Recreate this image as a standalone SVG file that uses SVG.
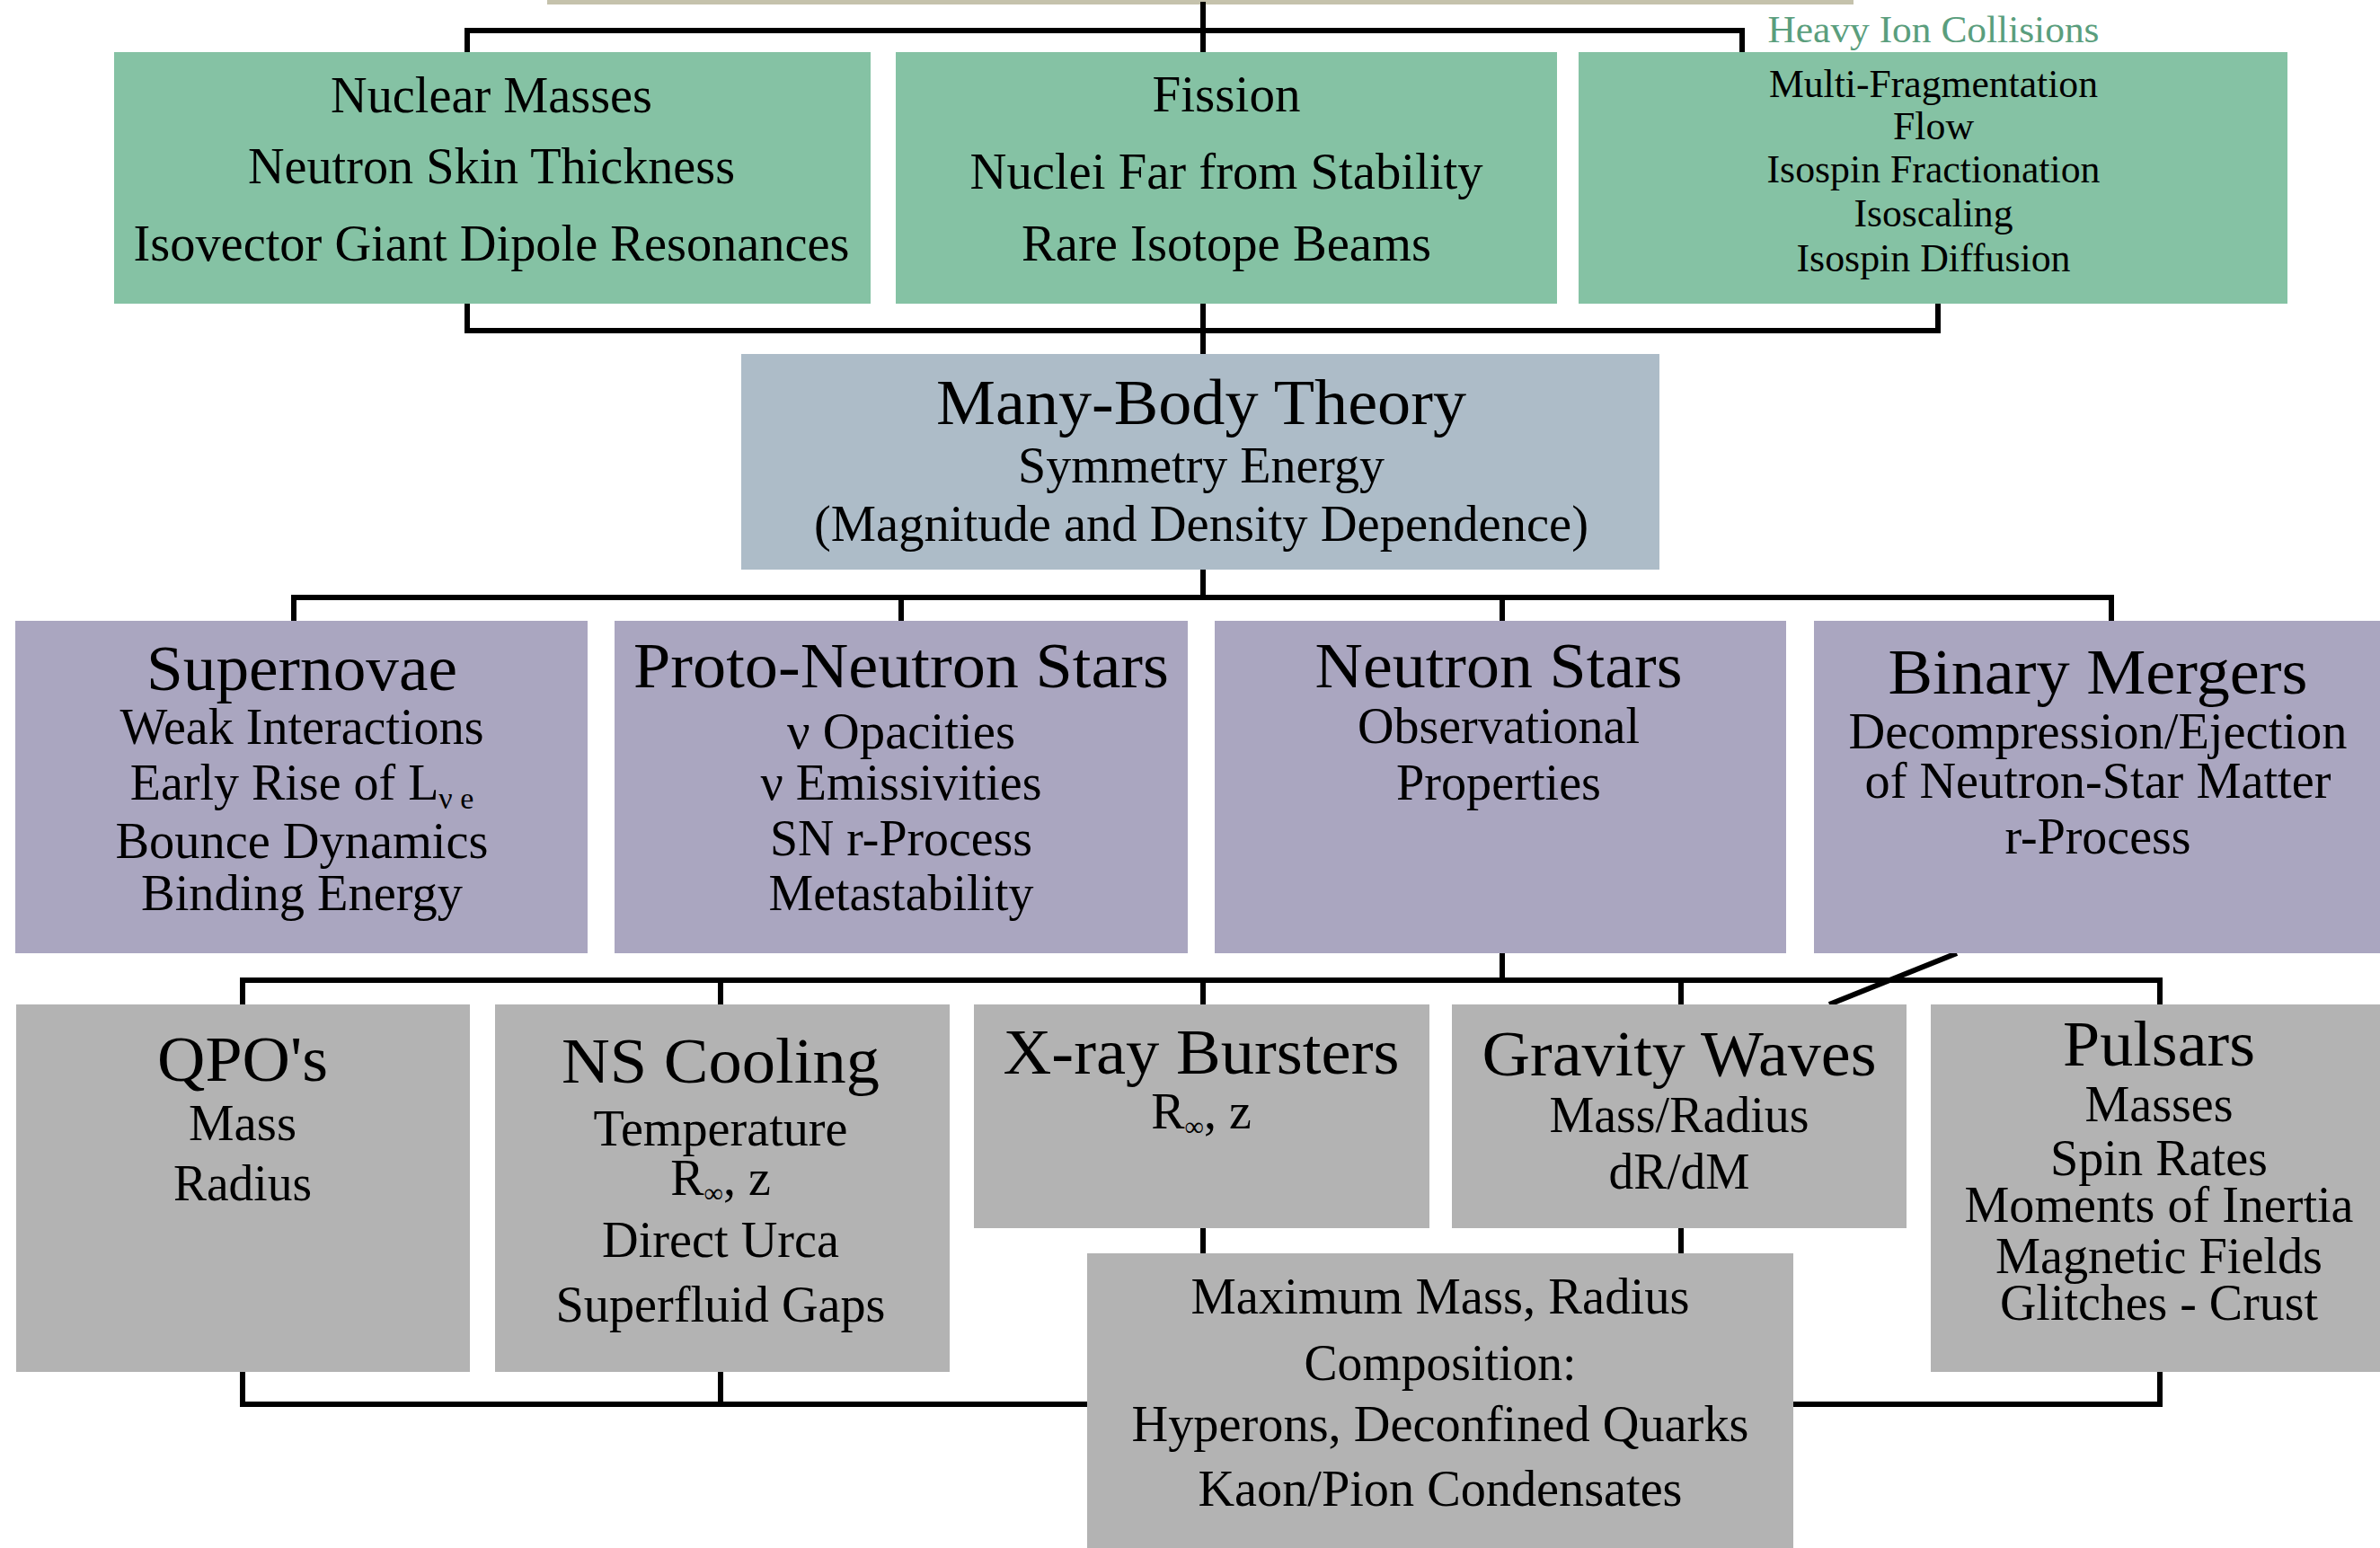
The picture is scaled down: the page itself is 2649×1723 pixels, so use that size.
<svg xmlns="http://www.w3.org/2000/svg" width="2649" height="1723" viewBox="0 0 2649 1723">
<style>
.t{font-family:"Liberation Serif","Times New Roman",serif;fill:#000;text-anchor:middle;font-size:56px}
.h{font-size:72px}
.hi{font-size:44px}
.lbl{font-size:42px;fill:#5a9e7d}
.green{fill:#85c2a4}
.blue{fill:#adbcc8}
.purple{fill:#aaa6c0}
.gray{fill:#b3b3b3}
.ln{fill:none;stroke:#000;stroke-width:6;stroke-linejoin:miter;stroke-linecap:square}
</style>
<rect width="2649" height="1723" fill="#fff"/>
<rect x="609" y="0" width="1454" height="5" fill="#c5c2ac"/>
<g id="connectors" class="ln">
<path d="M520,58 V34 H1939 V58"/>
<path d="M1339,5 V58"/>
<path d="M520,338 V368 H2157 V338"/>
<path d="M1339,338 V394"/>
<path d="M1339,634 V665"/>
<path d="M327,691 V665 H2350 V691"/>
<path d="M1003,665 V691"/>
<path d="M1672,665 V691"/>
<path d="M1672,1061 V1091"/>
<path d="M270,1118 V1091 H2404 V1118"/>
<path d="M802,1091 V1118"/>
<path d="M1339,1091 V1118"/>
<path d="M1871,1091 V1118"/>
<path d="M2178,1061 L2036,1118" style="stroke-linecap:butt"/>
<path d="M1339,1367 V1395"/>
<path d="M1871,1367 V1395"/>
<path d="M270,1527 V1563 H2404 V1527"/>
<path d="M802,1527 V1563"/>
</g>
<text class="t lbl" x="2152" y="47" textLength="369" lengthAdjust="spacingAndGlyphs">Heavy Ion Collisions</text>
<g id="nuclear">
<rect class="green" x="127" y="58" width="842" height="280"/>
<text class="t" x="547" y="125" textLength="358" lengthAdjust="spacingAndGlyphs">Nuclear Masses</text>
<text class="t" x="547" y="204" textLength="542" lengthAdjust="spacingAndGlyphs">Neutron Skin Thickness</text>
<text class="t" x="547" y="290" textLength="797" lengthAdjust="spacingAndGlyphs">Isovector Giant Dipole Resonances</text>
</g>
<g id="fission">
<rect class="green" x="997" y="58" width="736" height="280"/>
<text class="t" x="1365" y="124" textLength="165" lengthAdjust="spacingAndGlyphs">Fission</text>
<text class="t" x="1365" y="210" textLength="571" lengthAdjust="spacingAndGlyphs">Nuclei Far from Stability</text>
<text class="t" x="1365" y="290" textLength="456" lengthAdjust="spacingAndGlyphs">Rare Isotope Beams</text>
</g>
<g id="heavy-ion">
<rect class="green" x="1757" y="58" width="789" height="280"/>
<text class="t hi" x="2152" y="108" textLength="366" lengthAdjust="spacingAndGlyphs">Multi-Fragmentation</text>
<text class="t hi" x="2152" y="155" textLength="90" lengthAdjust="spacingAndGlyphs">Flow</text>
<text class="t hi" x="2152" y="203" textLength="371" lengthAdjust="spacingAndGlyphs">Isospin Fractionation</text>
<text class="t hi" x="2152" y="252" textLength="177" lengthAdjust="spacingAndGlyphs">Isoscaling</text>
<text class="t hi" x="2152" y="302" textLength="305" lengthAdjust="spacingAndGlyphs">Isospin Diffusion</text>
</g>
<g id="many-body">
<rect class="blue" x="825" y="394" width="1022" height="240"/>
<text class="t h" x="1337" y="472" textLength="590" lengthAdjust="spacingAndGlyphs">Many-Body Theory</text>
<text class="t" x="1337" y="537" textLength="408" lengthAdjust="spacingAndGlyphs">Symmetry Energy</text>
<text class="t" x="1337" y="602" textLength="862" lengthAdjust="spacingAndGlyphs">(Magnitude and Density Dependence)</text>
</g>
<g id="supernovae">
<rect class="purple" x="17" y="691" width="637" height="370"/>
<text class="t h" x="336" y="768" textLength="346" lengthAdjust="spacingAndGlyphs">Supernovae</text>
<text class="t" x="336" y="828" textLength="405" lengthAdjust="spacingAndGlyphs">Weak Interactions</text>
<text class="t" x="336" y="890">Early Rise of L<tspan font-size="34" dy="10">ν e</tspan></text>
<text class="t" x="336" y="955" textLength="415" lengthAdjust="spacingAndGlyphs">Bounce Dynamics</text>
<text class="t" x="336" y="1013" textLength="358" lengthAdjust="spacingAndGlyphs">Binding Energy</text>
</g>
<g id="proto-neutron-stars">
<rect class="purple" x="684" y="691" width="638" height="370"/>
<text class="t h" x="1003" y="765" textLength="596" lengthAdjust="spacingAndGlyphs">Proto-Neutron Stars</text>
<text class="t" x="1003" y="833" textLength="254" lengthAdjust="spacingAndGlyphs">ν Opacities</text>
<text class="t" x="1003" y="890" textLength="313" lengthAdjust="spacingAndGlyphs">ν Emissivities</text>
<text class="t" x="1003" y="952" textLength="292" lengthAdjust="spacingAndGlyphs">SN r-Process</text>
<text class="t" x="1003" y="1013" textLength="295" lengthAdjust="spacingAndGlyphs">Metastability</text>
</g>
<g id="neutron-stars">
<rect class="purple" x="1352" y="691" width="636" height="370"/>
<text class="t h" x="1668" y="765" textLength="409" lengthAdjust="spacingAndGlyphs">Neutron Stars</text>
<text class="t" x="1668" y="827" textLength="314" lengthAdjust="spacingAndGlyphs">Observational</text>
<text class="t" x="1668" y="890" textLength="228" lengthAdjust="spacingAndGlyphs">Properties</text>
</g>
<g id="binary-mergers">
<rect class="purple" x="2019" y="691" width="630" height="370"/>
<text class="t h" x="2335" y="772" textLength="467" lengthAdjust="spacingAndGlyphs">Binary Mergers</text>
<text class="t" x="2335" y="833" textLength="555" lengthAdjust="spacingAndGlyphs">Decompression/Ejection</text>
<text class="t" x="2335" y="888" textLength="519" lengthAdjust="spacingAndGlyphs">of Neutron-Star Matter</text>
<text class="t" x="2335" y="950" textLength="207" lengthAdjust="spacingAndGlyphs">r-Process</text>
</g>
<g id="qpos">
<rect class="gray" x="18" y="1118" width="505" height="409"/>
<text class="t h" x="270" y="1203" textLength="190" lengthAdjust="spacingAndGlyphs">QPO's</text>
<text class="t" x="270" y="1269" textLength="120" lengthAdjust="spacingAndGlyphs">Mass</text>
<text class="t" x="270" y="1336" textLength="154" lengthAdjust="spacingAndGlyphs">Radius</text>
</g>
<g id="ns-cooling">
<rect class="gray" x="551" y="1118" width="506" height="409"/>
<text class="t h" x="802" y="1205" textLength="354" lengthAdjust="spacingAndGlyphs">NS Cooling</text>
<text class="t" x="802" y="1275" textLength="283" lengthAdjust="spacingAndGlyphs">Temperature</text>
<text class="t" x="802" y="1330">R<tspan font-size="30" dy="8">∞</tspan><tspan dy="-8">, z</tspan></text>
<text class="t" x="802" y="1399" textLength="264" lengthAdjust="spacingAndGlyphs">Direct Urca</text>
<text class="t" x="802" y="1471" textLength="367" lengthAdjust="spacingAndGlyphs">Superfluid Gaps</text>
</g>
<g id="xray-bursters">
<rect class="gray" x="1084" y="1118" width="507" height="249"/>
<text class="t h" x="1337" y="1195" textLength="441" lengthAdjust="spacingAndGlyphs">X-ray Bursters</text>
<text class="t" x="1337" y="1256">R<tspan font-size="30" dy="8">∞</tspan><tspan dy="-8">, z</tspan></text>
</g>
<g id="gravity-waves">
<rect class="gray" x="1616" y="1118" width="506" height="249"/>
<text class="t h" x="1869" y="1197" textLength="439" lengthAdjust="spacingAndGlyphs">Gravity Waves</text>
<text class="t" x="1869" y="1260" textLength="289" lengthAdjust="spacingAndGlyphs">Mass/Radius</text>
<text class="t" x="1869" y="1323" textLength="157" lengthAdjust="spacingAndGlyphs">dR/dM</text>
</g>
<g id="pulsars">
<rect class="gray" x="2149" y="1118" width="500" height="409"/>
<text class="t h" x="2403" y="1186" textLength="214" lengthAdjust="spacingAndGlyphs">Pulsars</text>
<text class="t" x="2403" y="1248" textLength="165" lengthAdjust="spacingAndGlyphs">Masses</text>
<text class="t" x="2403" y="1308" textLength="242" lengthAdjust="spacingAndGlyphs">Spin Rates</text>
<text class="t" x="2403" y="1360" textLength="433" lengthAdjust="spacingAndGlyphs">Moments of Inertia</text>
<text class="t" x="2403" y="1417" textLength="364" lengthAdjust="spacingAndGlyphs">Magnetic Fields</text>
<text class="t" x="2403" y="1469" textLength="354" lengthAdjust="spacingAndGlyphs">Glitches - Crust</text>
</g>
<g id="maximum-mass">
<rect class="gray" x="1210" y="1395" width="786" height="328"/>
<text class="t" x="1603" y="1462" textLength="555" lengthAdjust="spacingAndGlyphs">Maximum Mass, Radius</text>
<text class="t" x="1603" y="1536" textLength="303" lengthAdjust="spacingAndGlyphs">Composition:</text>
<text class="t" x="1603" y="1604" textLength="687" lengthAdjust="spacingAndGlyphs">Hyperons, Deconfined Quarks</text>
<text class="t" x="1603" y="1676" textLength="539" lengthAdjust="spacingAndGlyphs">Kaon/Pion Condensates</text>
</g>
</svg>
